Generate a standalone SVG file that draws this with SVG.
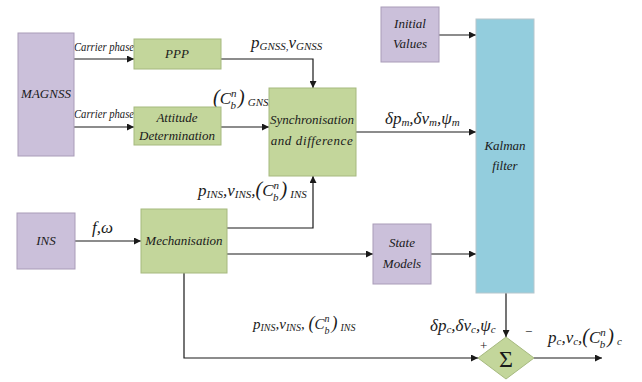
<svg xmlns="http://www.w3.org/2000/svg" width="642" height="382" viewBox="0 0 642 382">
  <style>
    .purple { fill: #cbc0da; stroke: #a99cb8; stroke-width: 1; }
    .green { fill: #c3d69b; stroke: #a6b97f; stroke-width: 1; }
    .blue { fill: #93cddd; stroke: #b5c6cc; stroke-width: 1; }
    text { font-family: "Liberation Serif", Tinos, "Noto Serif", "DejaVu Serif", FreeSerif, "Times New Roman", Times, serif; }
    .lbl { font-style: italic; font-size: 13px; fill: #1a1a1a; text-anchor: middle; }
    .math { font-style: italic; font-size: 17px; fill: #1a1a1a; }
    .sub { font-size: 11px; }
    .small { font-style: italic; font-size: 13px; fill: #1a1a1a; }
    .wire { fill: none; stroke: #1a1a1a; stroke-width: 1.2; }
  </style>
  <defs>
    <marker id="arr" viewBox="0 0 10 10" refX="10" refY="5" markerWidth="7" markerHeight="7" markerUnits="userSpaceOnUse" orient="auto">
      <path d="M0,0 L10,5 L0,10 z" fill="#1a1a1a"/>
    </marker>
  </defs>

  <rect width="642" height="382" fill="#ffffff"/>

  <!-- connectors -->
  <g id="connectors">
    <path class="wire" d="M74,59 H134" marker-end="url(#arr)"/>
    <path class="wire" d="M74,127 H134" marker-end="url(#arr)"/>
    <path class="wire" d="M221,59 H313 V88" marker-end="url(#arr)"/>
    <path class="wire" d="M221,127 H269" marker-end="url(#arr)"/>
    <path class="wire" d="M356,132 H476" marker-end="url(#arr)"/>
    <path class="wire" d="M439,35 H476" marker-end="url(#arr)"/>
    <path class="wire" d="M75,241 H141" marker-end="url(#arr)"/>
    <path class="wire" d="M227,228 H313 V176" marker-end="url(#arr)"/>
    <path class="wire" d="M227,254 H373" marker-end="url(#arr)"/>
    <path class="wire" d="M431,254 H476" marker-end="url(#arr)"/>
    <path class="wire" d="M184,273 V358 H478" marker-end="url(#arr)"/>
    <path class="wire" d="M506,293 V337" marker-end="url(#arr)"/>
    <path class="wire" d="M534,358 H602" marker-end="url(#arr)"/>
  </g>

  <!-- connector labels -->
  <g id="labels">
    <text class="small" x="74" y="51" textLength="60" lengthAdjust="spacingAndGlyphs">Carrier phase</text>
    <text class="small" x="74" y="118" textLength="60" lengthAdjust="spacingAndGlyphs">Carrier phase</text>
    <text class="math" x="251" y="48">p<tspan class="sub" dy="2">GNSS,</tspan><tspan dy="-2">v</tspan><tspan class="sub" dy="2">GNSS</tspan></text>
    <text class="math" x="213" y="104"><tspan font-size="20">(</tspan>C<tspan class="sub" dy="-7">n</tspan><tspan class="sub" dx="-6" dy="12">b</tspan><tspan dy="-5" dx="2" font-size="20">)</tspan><tspan class="sub" dx="3" dy="2">GNSS</tspan></text>
    <text class="math" x="385" y="124">δp<tspan class="sub" dy="2">m</tspan><tspan dy="-2">,δv</tspan><tspan class="sub" dy="2">m</tspan><tspan dy="-2">,ψ</tspan><tspan class="sub" dy="2">m</tspan></text>
    <text class="math" x="92" y="233">f,ω</text>
    <text class="math" x="198" y="196">p<tspan class="sub" dy="2">INS</tspan><tspan dy="-2">,v</tspan><tspan class="sub" dy="2">INS</tspan><tspan dy="-2">,</tspan><tspan font-size="20">(</tspan>C<tspan class="sub" dy="-7">n</tspan><tspan class="sub" dx="-6" dy="12">b</tspan><tspan dy="-5" dx="2" font-size="20">)</tspan><tspan class="sub" dx="3" dy="2">INS</tspan></text>
    <text class="math" x="253" y="329" style="font-size:15px">p<tspan style="font-size:10px" dy="2">INS</tspan><tspan dy="-2">,v</tspan><tspan style="font-size:10px" dy="2">INS</tspan><tspan dy="-2">,  </tspan><tspan font-size="18">(</tspan>C<tspan style="font-size:10px" dy="-7">n</tspan><tspan style="font-size:10px" dx="-5" dy="12">b</tspan><tspan dy="-5" dx="2" font-size="18">)</tspan><tspan style="font-size:10px" dx="3" dy="2">INS</tspan></text>
    <text class="math" x="430" y="331">δp<tspan class="sub" dy="2">c</tspan><tspan dy="-2">,δv</tspan><tspan class="sub" dy="2">c</tspan><tspan dy="-2">,ψ</tspan><tspan class="sub" dy="2">c</tspan></text>
    <text class="small" x="480" y="350" style="font-style:normal">+</text>
    <text class="small" x="525" y="336" style="font-style:normal">−</text>
    <text class="math" x="548" y="343">p<tspan class="sub" dy="2">c</tspan><tspan dy="-2">,v</tspan><tspan class="sub" dy="2">c</tspan><tspan dy="-2">,</tspan><tspan font-size="20">(</tspan>C<tspan class="sub" dy="-7">n</tspan><tspan class="sub" dx="-6" dy="12">b</tspan><tspan dy="-5" dx="2" font-size="20">)</tspan><tspan class="sub" dx="3" dy="2">c</tspan></text>
  </g>

  <g id="nodes">
    <g id="magnss">
      <rect class="purple" x="18" y="33" width="56" height="123"/>
      <text class="lbl" x="46" y="98">MAGNSS</text>
    </g>
    <g id="ppp">
      <rect class="green" x="134" y="39" width="87" height="30"/>
      <text class="lbl" x="177" y="58">PPP</text>
    </g>
    <g id="attitude">
      <rect class="green" x="134" y="107" width="87" height="38"/>
      <text class="lbl" x="177" y="122">Attitude</text>
      <text class="lbl" x="177" y="140">Determination</text>
    </g>
    <g id="sync">
      <rect class="green" x="269" y="88" width="87" height="88"/>
      <text class="lbl" x="312" y="124">Synchronisation</text>
      <text class="lbl" x="312" y="145" letter-spacing="0.6">and difference</text>
    </g>
    <g id="initial">
      <rect class="purple" x="381" y="7" width="58" height="55"/>
      <text class="lbl" x="410" y="28">Initial</text>
      <text class="lbl" x="410" y="48">Values</text>
    </g>
    <g id="kalman">
      <rect class="blue" x="476" y="19" width="58" height="274"/>
      <text class="lbl" x="505" y="150">Kalman</text>
      <text class="lbl" x="505" y="170">filter</text>
    </g>
    <g id="ins">
      <rect class="purple" x="17" y="213" width="58" height="56"/>
      <text class="lbl" x="46" y="245">INS</text>
    </g>
    <g id="mechanisation">
      <rect class="green" x="141" y="209" width="86" height="64"/>
      <text class="lbl" x="184" y="245">Mechanisation</text>
    </g>
    <g id="state-models">
      <rect class="purple" x="373" y="224" width="58" height="60"/>
      <text class="lbl" x="402" y="247">State</text>
      <text class="lbl" x="402" y="268">Models</text>
    </g>
    <g id="sum">
      <polygon class="green" points="478,358 506,337 534,358 506,379"/>
      <text x="506" y="367" text-anchor="middle" font-size="24" fill="#1a1a1a">Σ</text>
    </g>
  </g>
</svg>
